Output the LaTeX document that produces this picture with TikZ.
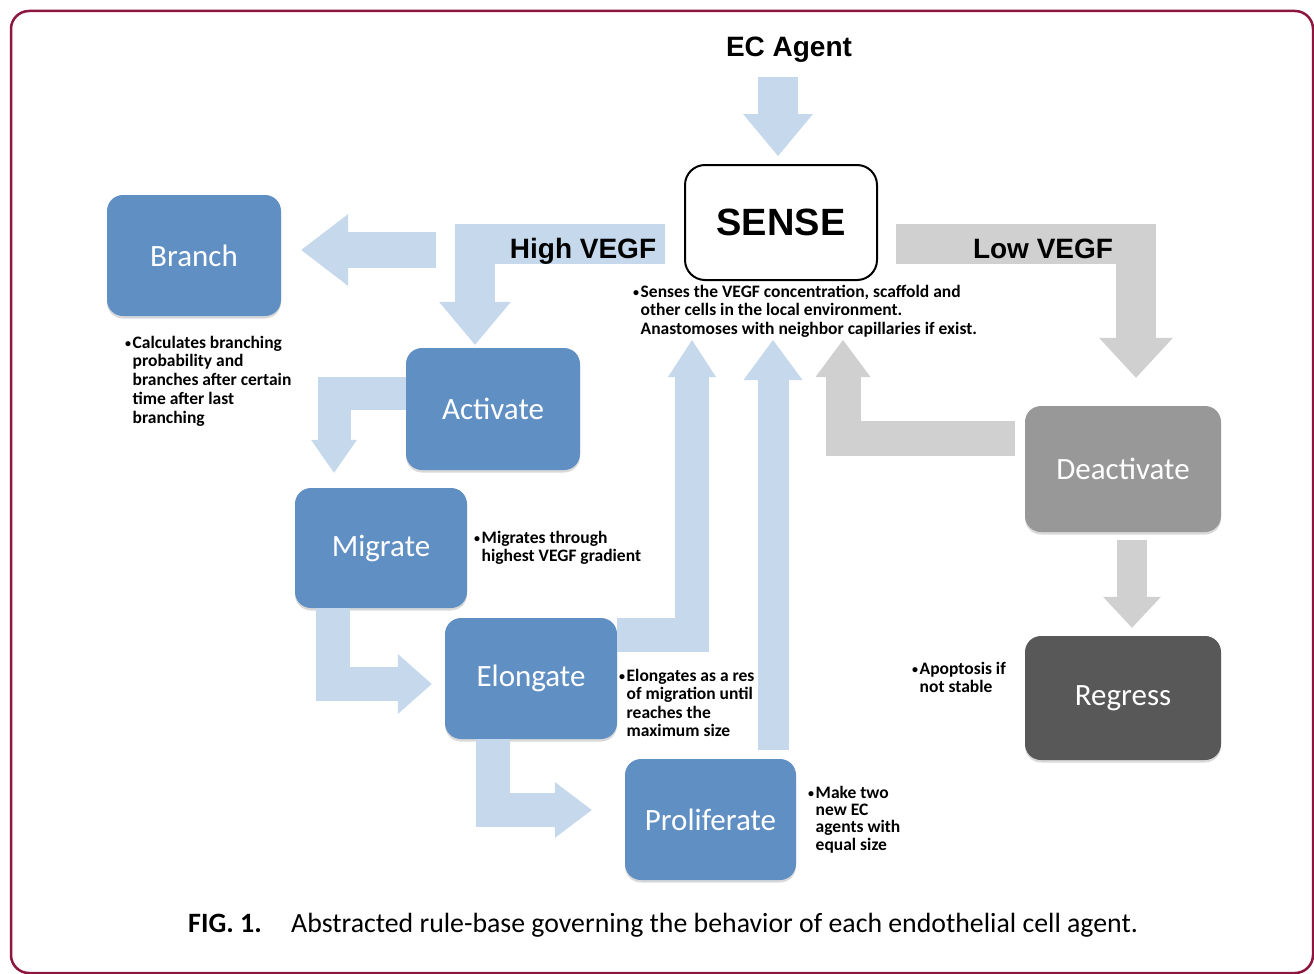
\documentclass[tikz,border=0pt]{standalone}
\usepackage{fontspec}
\setmainfont{Carlito}
\newfontfamily\arialfont{Liberation Sans}
\usetikzlibrary{arrows.meta,calc,shadows}

\definecolor{boxblue}{RGB}{96,143,196}
\definecolor{arrowblue}{RGB}{198,217,236}
\definecolor{arrowgray}{RGB}{208,208,208}
\definecolor{deactgray}{RGB}{152,152,152}
\definecolor{regressgray}{RGB}{88,88,88}
\definecolor{framered}{RGB}{140,22,62}

\newcommand{\notedot}{\makebox[7.5pt][l]{\raisebox{1pt}{\fontsize{12}{12}\selectfont•}}}

\tikzset{
    statebox/.style={rounded corners=16pt, text=white, inner sep=0pt,
        font=\fontsize{31}{36}\selectfont,
        minimum width=174pt, minimum height=121pt,
        drop shadow={shadow xshift=0pt, shadow yshift=-2.5pt, opacity=0.3}},
    bluestate/.style={statebox, fill=boxblue},
    sensebox/.style={draw=black, line width=2pt, fill=white, rounded corners=20pt,
        minimum width=192pt, minimum height=115pt, inner sep=0pt,
        font=\arialfont\bfseries\fontsize{38}{44}\selectfont},
    biglabel/.style={anchor=base, inner sep=0pt, font=\arialfont\bfseries\fontsize{28}{32}\selectfont},
    note/.style={anchor=base west, inner sep=0pt, font=\bfseries\fontsize{17.5}{18.5}\selectfont},
    flowarrow/.style args={#1/#2/#3}{line width=#1, line cap=butt, line join=miter,
        -{Triangle[width=#2, length=#3, line width=0pt]}},
    blueflow/.style={draw=arrowblue, flowarrow=#1},
    grayflow/.style={draw=arrowgray, flowarrow=#1}
}

\begin{document}
\begin{tikzpicture}[x=1pt, y=-1pt]
    \useasboundingbox (0,0) rectangle (1314,974);
    \draw[framered, line width=2.5pt, rounded corners=18pt] (11,11) rectangle (1313,973);

    % states
    \node[sensebox] (sense) at (781,222.5) {SENSE};
    \node[bluestate] (branch) at (194,255.5) {Branch};
    \node[bluestate, minimum height=122pt] (activate) at (493,409) {Activate};
    \node[bluestate, minimum width=172pt, minimum height=120pt] (migrate) at (381,548) {Migrate};
    \node[bluestate, minimum width=172pt] (elongate) at (531,678.5) {Elongate};
    \node[bluestate, minimum width=171pt] (proliferate) at (710.5,819.5) {Proliferate};
    \node[statebox, fill=deactgray, minimum width=196pt, minimum height=126pt] (deactivate) at (1123,469) {Deactivate};
    \node[statebox, fill=regressgray, minimum width=196pt, minimum height=124pt] (regress) at (1123,698) {Regress};

    % rule notes
    \node[note] (sensenote) at (633,297) {\begin{tabular}[t]{@{}l@{}l@{}}%
        \notedot&Senses the VEGF concentration, scaffold and\\
        &other cells in the local environment.\\
        &Anastomoses with neighbor capillaries if exist.\end{tabular}};
    \node[note, font=\bfseries\fontsize{17.5}{18.75}\selectfont] (branchnote) at (125,348) {\begin{tabular}[t]{@{}l@{}l@{}}%
        \notedot&Calculates branching\\
        &probability and\\
        &branches after certain\\
        &time after last\\
        &branching\end{tabular}};
    \node[note] (migratenote) at (474,543) {\begin{tabular}[t]{@{}l@{}l@{}}%
        \notedot&Migrates through\\
        &highest VEGF gradient\end{tabular}};
    \node[note] (elongatenote) at (619,681) {\begin{tabular}[t]{@{}l@{}l@{}}%
        \notedot&Elongates as a res\\
        &of migration until\\
        &reaches the\\
        &maximum size\end{tabular}};
    \node[note, font=\bfseries\fontsize{17.5}{17.4}\selectfont] (prolifnote) at (808,798) {\begin{tabular}[t]{@{}l@{}l@{}}%
        \notedot&Make two\\
        &new EC\\
        &agents with\\
        &equal size\end{tabular}};
    \node[note] (regressnote) at (912,674) {\begin{tabular}[t]{@{}l@{}l@{}}%
        \notedot&Apoptosis if\\
        &not stable\end{tabular}};

    % free ends
    \coordinate (ecfoot) at (778,77);
    \coordinate (highfoot) at (665,244);
    \coordinate (branchfoot) at (436,250);
    \coordinate (lowfoot) at (896,244);
    \coordinate (sensefoot1) at (692,340);
    \coordinate (sensefoot2) at (773,340);
    \coordinate (sensefoot3) at (843,340);

    % flows
    \draw[blueflow={40pt/70pt/42pt}] (ecfoot) -- ($(sense.north)+(-3,-8)$);
    \draw[blueflow={40pt/72pt/43pt}] (highfoot) -| ($(activate.north)+(-18,-3)$);
    \draw[blueflow={36pt/72pt/47pt}] (branchfoot) -- ($(branch.east)+(20,-5.5)$);
    \draw[blueflow={33pt/46pt/33pt}] ($(activate.west)+(0,-15.5)$) -| ($(migrate.north)+(-47,-15)$);
    \draw[blueflow={34pt/60pt/34pt}] ($(migrate.south)+(-48,0)$) |- ($(elongate.west)+(-13,5.5)$);
    \draw[blueflow={34pt/48pt/37pt}] ($(elongate.north east)+(0,17)$) -| (sensefoot1);
    \draw[blueflow={31pt/59pt/40pt}] ($(proliferate.north)+(62.5,-9)$) -- (sensefoot2);
    \draw[blueflow={34pt/56pt/37pt}] ($(elongate.south)+(-38,0)$) |- ($(proliferate.west)+(-33,-9.5)$);
    \draw[grayflow={40pt/74pt/40pt}] (lowfoot) -| ($(deactivate.north)+(13,-28)$);
    \draw[grayflow={35pt/55pt/37pt}] ($(deactivate.west)+(-10,-30.5)$) -| (sensefoot3);
    \draw[grayflow={30pt/58pt/31pt}] ($(deactivate.south)+(9,8)$) -- ($(regress.north)+(9,-8)$);

    % labels
    \node[biglabel] (ecagent) at (789,57) {EC Agent};
    \node[biglabel] (highvegf) at (583,258) {High VEGF};
    \node[biglabel] (lowvegf) at (1043,258) {Low VEGF};

    % caption
    \node[anchor=base west, inner sep=0pt, font=\bfseries\fontsize{28}{32}\selectfont] (figlabel) at (188,932) {FIG. 1.};
    \node[anchor=base west, inner sep=0pt, font=\fontsize{27.8}{32}\selectfont] (caption) at (291,932) {Abstracted rule-base governing the behavior of each endothelial cell agent.};
\end{tikzpicture}
\end{document}
